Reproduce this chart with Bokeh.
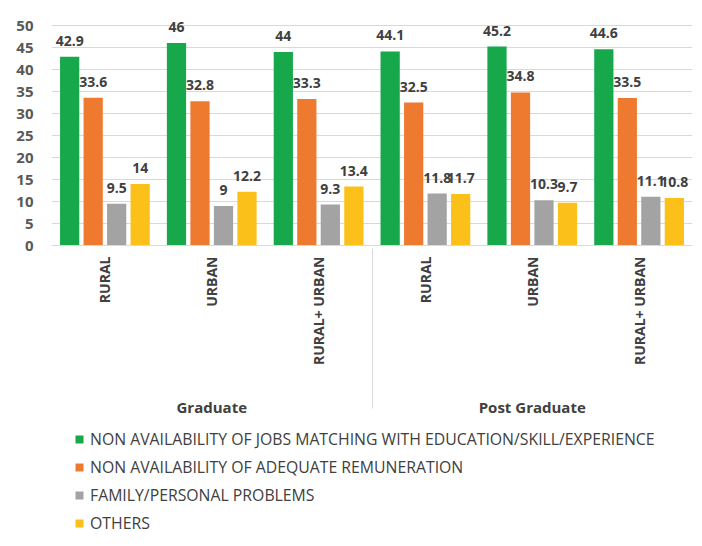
import math
from bokeh.plotting import figure
from bokeh.layouts import column
from bokeh.models import (FactorRange, Range1d, FixedTicker, LabelSet, ColumnDataSource,
                          Legend, LegendItem)
from bokeh.core.properties import value
from bokeh.transform import dodge
from bokeh.embed import file_html
from bokeh.resources import INLINE

groups = ["Graduate", "Graduate", "Graduate", "Post Graduate", "Post Graduate", "Post Graduate"]
areas = ["RURAL", "URBAN", "RURAL+ URBAN", "RURAL", "URBAN", "RURAL+ URBAN"]

jobs = [42.9, 46, 44, 44.1, 45.2, 44.6]
remuneration = [33.6, 32.8, 33.3, 32.5, 34.8, 33.5]
family = [9.5, 9, 9.3, 11.8, 10.3, 11.1]
others = [14, 12.2, 13.4, 11.7, 9.7, 10.8]

series_names = [
    "NON AVAILABILITY OF JOBS MATCHING WITH EDUCATION/SKILL/EXPERIENCE",
    "NON AVAILABILITY OF ADEQUATE REMUNERATION",
    "FAMILY/PERSONAL PROBLEMS",
    "OTHERS",
]
series_cols = ["jobs", "remuneration", "family", "others"]
colors = ["#17a84b", "#ee7a30", "#a3a3a3", "#fbc11a"]
offsets = [-0.33, -0.11, 0.11, 0.33]
y_ticks = [0, 5, 10, 15, 20, 25, 30, 35, 40, 45, 50]

FONT = "Open Sans"

# frame extends 20px above the 50 gridline so value labels are not clipped
FRAME_H = 240
Y_MAX = 50 * FRAME_H / 220

# leading line break pushes the group labels down, as in the original
factors = [("\n" + g, a) for g, a in zip(groups, areas)]
data = dict(x=factors, jobs=jobs, remuneration=remuneration, family=family, others=others)
for c in series_cols:
    data[c + "_t"] = [f"{v:g}" for v in data[c]]
src = ColumnDataSource(data)

p = figure(
    x_range=FactorRange(*factors, group_padding=0, factor_padding=0, range_padding=0),
    y_range=Range1d(0, Y_MAX),
    frame_width=641, frame_height=FRAME_H,
    min_border_left=51, min_border_top=5, min_border_right=9, min_border_bottom=180,
    output_backend="svg", toolbar_location=None,
)
p.outline_line_color = None
p.background_fill_color = "white"
p.border_fill_color = "white"

for col, color, off in zip(series_cols, colors, offsets):
    p.vbar(x=dodge("x", off, range=p.x_range), top=col, width=0.18, source=src,
           fill_color=color, line_color=None)
    labels = LabelSet(x=dodge("x", off, range=p.x_range), y=col, text=col + "_t", source=src,
                      y_offset=11, text_align="center", text_baseline="bottom",
                      text_font=value(FONT), text_font_size=value("14px"),
                      text_font_style=value("bold"), text_color=value("#404040"))
    p.add_layout(labels)

# y axis
p.yaxis.ticker = FixedTicker(ticks=y_ticks)
p.yaxis.axis_line_color = None
p.yaxis.major_tick_line_color = None
p.yaxis.minor_tick_line_color = None
p.yaxis.major_label_standoff = 12
p.yaxis.major_label_text_font = FONT
p.yaxis.major_label_text_font_size = "15px"
p.yaxis.major_label_text_font_style = "bold"
p.yaxis.major_label_text_color = "#595959"
p.ygrid.ticker = FixedTicker(ticks=y_ticks)
p.ygrid.grid_line_color = "#d9d9d9"
p.xgrid.grid_line_color = None

# x axis
p.xaxis.axis_line_color = "#d9d9d9"
p.xaxis.major_tick_line_color = None
p.xaxis.minor_tick_line_color = None
p.xaxis.major_label_orientation = math.pi / 2
p.xaxis.major_label_standoff = 5
p.xaxis.major_label_text_font = FONT
p.xaxis.major_label_text_font_size = "14px"
p.xaxis.major_label_text_font_style = "bold"
p.xaxis.major_label_text_color = "#404040"
p.xaxis.group_label_orientation = "horizontal"
p.xaxis.group_text_font = FONT
p.xaxis.group_text_font_size = "15px"
p.xaxis.group_text_font_style = "bold"
p.xaxis.group_text_color = "#404040"
p.xaxis.separator_line_color = "#d9d9d9"
p.xaxis.separator_line_width = 1

# legend panel: a second figure holding hidden copies of the bar series
q = figure(
    x_range=FactorRange(*factors, group_padding=0, factor_padding=0, range_padding=0),
    y_range=Range1d(0, Y_MAX),
    width=701, height=121,
    min_border_left=51, min_border_top=0, min_border_right=9, min_border_bottom=0,
    output_backend="svg", toolbar_location=None,
)
q.axis.visible = False
q.grid.visible = False
q.outline_line_color = None
q.border_fill_color = "white"
q.background_fill_color = "white"
hidden = []
for col, color, off in zip(series_cols, colors, offsets):
    r = q.vbar(x=dodge("x", off, range=q.x_range), top=col, width=0.18, source=src,
               fill_color=color, line_color=None, visible=False)
    hidden.append(r)

legend = Legend(
    items=[LegendItem(label=n, renderers=[r]) for n, r in zip(series_names, hidden)],
    location=(23, 12), orientation="vertical",
    border_line_color=None, background_fill_alpha=0,
    inactive_fill_alpha=0,
    glyph_width=10, glyph_height=10, label_standoff=6,
    label_height=20, spacing=6, margin=0, padding=0,
    label_text_font=FONT, label_text_font_size="15.8px", label_text_color="#404040",
)
q.add_layout(legend)

layout = column(p, q, spacing=0)
open("out.html", "w").write(file_html(layout, INLINE))
